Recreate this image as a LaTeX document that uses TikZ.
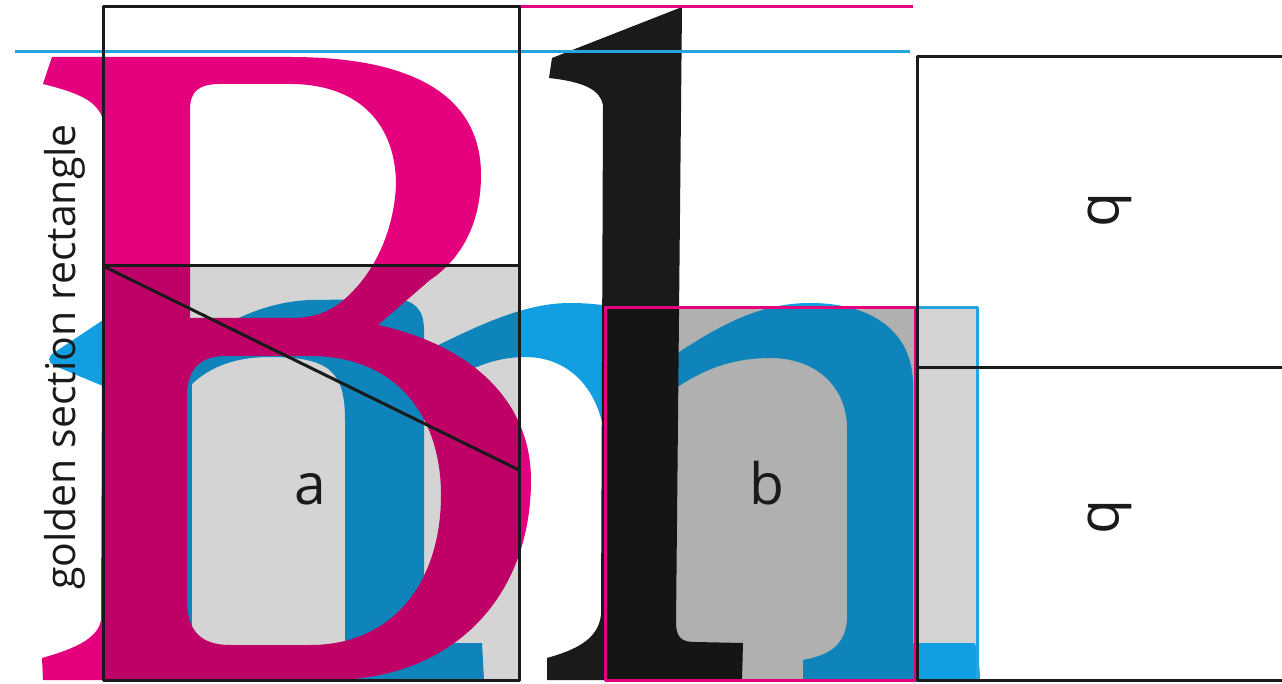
\documentclass[tikz,border=0pt]{standalone}
\usepackage{fontspec}
\setmainfont{Open Sans}
\definecolor{mag}{HTML}{E5007D}
\definecolor{blu}{HTML}{129FE2}
\definecolor{cya}{HTML}{22A5E2}
\definecolor{ink}{HTML}{1A1A1A}
\definecolor{lgray}{HTML}{D4D4D4}
\begin{document}
\begin{tikzpicture}[x=1pt,y=-1pt,line join=round,
  frame/.style={draw=ink,line width=3pt},
  magline/.style={draw=mag,line width=3pt},
  cyaline/.style={draw=cya,line width=3pt},
  shadebox/.style={fill=black,fill opacity=0.17},
  lbl/.style={text=ink,inner sep=0pt,font=\fontsize{57}{60}\selectfont}]
\useasboundingbox (0,0) rectangle (1282,684);
\clip (0,0) rectangle (1282,684);
\fill[white] (0,0) rectangle (1282,684);

% key corners
\coordinate (gA) at (103,7);
\coordinate (gB) at (519,680);
\coordinate (gM) at (103,266);
\coordinate (gN) at (519,266);
\coordinate (gD) at (519,470);
\coordinate (sqA) at (605,308);
\coordinate (sqB) at (915,680);
\coordinate (cyB) at (977,680);

% light gray under the right letter
\fill[lgray] (sqA) rectangle (cyB);

% blue letter
\fill[blu] (103,320) -- (55,352) .. controls (47,357) and (47,362) .. (55,366) -- (103,386) -- cycle;
\fill[blu] (103,320) rectangle (192,680);
\fill[blu] (150,360) -- (190,345) .. controls (230,320) and (265,302) .. (310,300) -- (395,299)
  .. controls (415,300) and (424,310) .. (424,330) -- (424,615)
  .. controls (426,638) and (440,643) .. (460,643) -- (482,643) -- (484,680) -- (345,680) -- (345,420)
  .. controls (345,372) and (330,357) .. (270,357) .. controls (230,357) and (205,370) .. (188,388)
  -- (150,400) -- cycle;
\fill[blu] (424,352) .. controls (470,330) and (520,303) .. (570,303) .. controls (600,303) and (620,308) .. (640,312)
  -- (640,680) -- (605,680) -- (605,440) .. controls (600,390) and (570,357) .. (525,357)
  .. controls (485,357) and (450,378) .. (424,400) -- cycle;
\fill[blu] (640,370) -- (673,356) .. controls (720,325) and (760,303) .. (810,303)
  .. controls (870,303) and (913,330) .. (913,385) -- (913,643) -- (975,643)
  .. controls (978,655) and (980,668) .. (980,680) -- (803,680) -- (803,660)
  .. controls (830,655) and (845,645) .. (847,620) -- (847,425)
  .. controls (845,385) and (815,358) .. (770,358) .. controls (725,358) and (695,375) .. (673,390)
  -- (640,405) -- cycle;

% black l
\fill[ink] (682,7) -- (676,625) .. controls (677,638) and (682,642) .. (695,642) -- (743,643) -- (742,680)
  -- (547,680) -- (547,658) .. controls (575,650) and (598,640) .. (601,615) -- (603,105)
  .. controls (600,90) and (585,82) .. (549,78) -- (552,58) -- cycle;

% magenta B
\fill[mag,even odd rule]
  (52,57) -- (290,57) .. controls (420,57) and (481,100) .. (481,175)
  .. controls (481,225) and (460,260) .. (430,280) -- (378,325)
  .. controls (470,345) and (531,400) .. (531,480)
  .. controls (531,600) and (450,680) .. (330,680) -- (43,680) -- (42,658)
  .. controls (70,650) and (98,640) .. (101,620) -- (103,120)
  .. controls (98,100) and (75,92) .. (43,84) -- cycle
  (190,110) .. controls (190,92) and (198,84) .. (220,84) -- (290,84)
  .. controls (360,84) and (396,125) .. (396,185)
  .. controls (394,230) and (375,275) .. (340,303) .. controls (325,314) and (310,318) .. (290,318)
  -- (190,318) -- cycle
  (187,395) .. controls (187,370) and (200,356) .. (225,356) -- (310,356)
  .. controls (400,356) and (441,420) .. (441,495)
  .. controls (441,580) and (395,645) .. (310,645) -- (230,645)
  .. controls (200,645) and (187,630) .. (187,600) -- cycle;

% transparent gray overlays
\fill[shadebox] (gM) rectangle (gB);
\fill[shadebox] (sqA) rectangle (sqB);

% guide lines
\draw[cyaline] (15,52) -- (910,52);
\draw[magline] (519,7) -- (913,7);
\draw[cyaline] (sqA) rectangle (cyB);
\draw[magline] (sqA) rectangle (sqB);

% left golden rectangle
\draw[frame] (gA) rectangle (gB);
\draw[frame] (gM) -- (gN);
\draw[frame] (gM) -- (gD);

% right rectangle
\draw[frame] (1290,57) -- (917,57) -- (917,680) -- (1290,680);
\draw[frame] (917,368) -- (1290,368);

% labels
\node[text=ink,inner sep=0pt,font=\fontsize{41}{44}\selectfont,rotate=90,anchor=base] (title) at (75,357) {golden section rectangle};
\node[lbl,anchor=base] (la) at (310,504) {a};
\node[lbl,anchor=base] (lb) at (767,504) {b};
\node[lbl,rotate=-90,anchor=base] (q1) at (1088,210) {b};
\node[lbl,rotate=-90,anchor=base] (q2) at (1088,517) {b};
\end{tikzpicture}
\end{document}
